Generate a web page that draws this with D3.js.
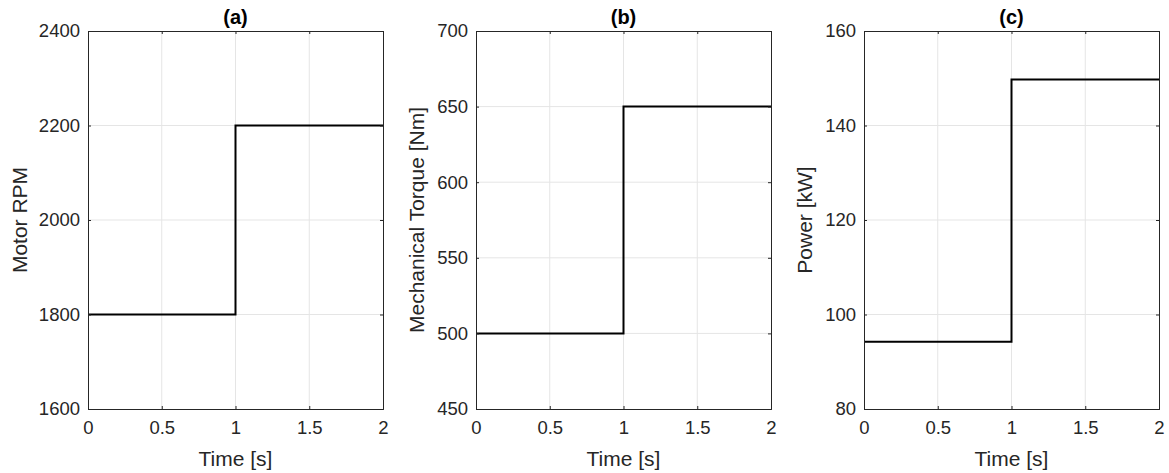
<!DOCTYPE html>
<html>
<head>
<meta charset="utf-8">
<script src="https://cdn.jsdelivr.net/npm/d3@7"></script>
<style>
  body { margin: 0; background: #fff; }
  svg text { font-family: "Liberation Sans", Arial, sans-serif; fill: #262626; }
</style>
</head>
<body>
<svg width="1169" height="473"></svg>
<script>
// data
const time = [0, 1, 1, 2];
const rpm = [1800, 1800, 2200, 2200];
const torque = [500, 500, 650, 650];
const power = [94.25, 94.25, 149.75, 149.75];

const xTicks = [0, 0.5, 1, 1.5, 2];
const titles = ["(a)", "(b)", "(c)"];
const yLabels = ["Motor RPM", "Mechanical Torque [Nm]", "Power [kW]"];
const yDomains = [[1600, 2400], [450, 700], [80, 160]];
const yTicks = [[1600, 1800, 2000, 2200, 2400], [450, 500, 550, 600, 650, 700], [80, 100, 120, 140, 160]];
const series = [rpm, torque, power];

const svg = d3.select("svg");
const lefts = [88, 476, 864];
const labelOffsets = [-61, -52, -52];
const marginTop = 31, height = 378, width = 295;

lefts.forEach((left, k) => {
  const x = d3.scaleLinear().domain([0, 2]).range([0, width]);
  const y = d3.scaleLinear().domain(yDomains[k]).range([height, 0]);

  const g = svg.append("g").attr("transform", "translate(" + left + "," + marginTop + ")");

  // grid
  g.selectAll(".gx").data(xTicks.slice(1, -1)).enter().append("line")
    .attr("x1", d => x(d)).attr("x2", d => x(d)).attr("y1", 0).attr("y2", height)
    .attr("stroke", "#e5e5e5").attr("stroke-width", 1);
  g.selectAll(".gy").data(yTicks[k].slice(1, -1)).enter().append("line")
    .attr("y1", d => y(d)).attr("y2", d => y(d)).attr("x1", 0).attr("x2", width)
    .attr("stroke", "#e5e5e5").attr("stroke-width", 1);

  // data line
  const line = d3.line().x((d, i) => x(time[i])).y(d => y(d));
  g.append("path").datum(series[k]).attr("d", line)
    .attr("fill", "none").attr("stroke", "#000").attr("stroke-width", 2);

  // axes (inward ticks, box)
  const tick = 3;
  const fmt = d => String(d);
  const xb = g.append("g").attr("transform", "translate(0," + height + ")")
    .call(d3.axisBottom(x).tickValues(xTicks).tickFormat(fmt).tickSize(-tick).tickPadding(12));
  const xt = g.append("g")
    .call(d3.axisTop(x).tickValues(xTicks).tickFormat("").tickSize(-tick));
  const yl = g.append("g")
    .call(d3.axisLeft(y).tickValues(yTicks[k]).tickFormat(fmt).tickSize(-tick).tickPadding(8));
  const yr = g.append("g").attr("transform", "translate(" + width + ",0)")
    .call(d3.axisRight(y).tickValues(yTicks[k]).tickFormat("").tickSize(-tick));

  [xb, xt, yl, yr].forEach(a => {
    a.select(".domain").attr("stroke", "#262626").attr("stroke-width", 1);
    a.selectAll(".tick line").attr("stroke", "#262626");
    a.selectAll("text").style("font-size", "18.5px").attr("fill", "#262626");
  });

  // title
  g.append("text").attr("x", width / 2).attr("y", -7).attr("text-anchor", "middle")
    .style("font-size", "20px").style("font-weight", "bold").style("fill", "#000").text(titles[k]);

  // x label
  g.append("text").attr("x", width / 2).attr("y", height + 57).attr("text-anchor", "middle")
    .style("font-size", "21px").text("Time [s]");

  // y label
  g.append("text").attr("transform", "translate(" + labelOffsets[k] + "," + (height / 2) + ") rotate(-90)")
    .attr("text-anchor", "middle").style("font-size", "21px").text(yLabels[k]);
});
</script>
</body>
</html>
